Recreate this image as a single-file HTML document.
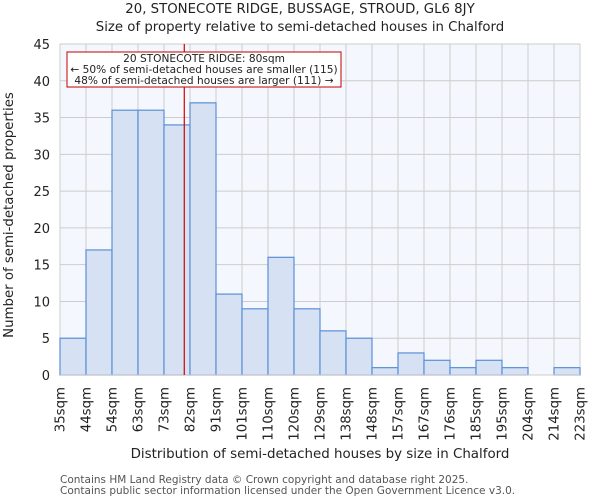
<!DOCTYPE html>
<html><head><meta charset="utf-8"><style>
body{margin:0;background:#fff;font-family:"DejaVu Sans","Liberation Sans",sans-serif;}
svg text{font-family:"DejaVu Sans","Liberation Sans",sans-serif;fill:#222;}
</style></head><body>
<svg id="c" width="600" height="500">
<text x="300" y="13" text-anchor="middle" font-size="13.3">20, STONECOTE RIDGE, BUSSAGE, STROUD, GL6 8JY</text>
<text x="300" y="31" text-anchor="middle" font-size="13.3">Size of property relative to semi-detached houses in Chalford</text>
<rect x="60" y="44" width="520" height="331" fill="#f4f7fd"/>
<g id="grid"></g><g id="bars"></g><g id="yt"></g><g id="xt"></g>
<text transform="translate(13,215) rotate(-90)" text-anchor="middle" font-size="13.3">Number of semi-detached properties</text>
<text x="320" y="458" text-anchor="middle" font-size="13.4">Distribution of semi-detached houses by size in Chalford</text>
<text x="60" y="483" font-size="10.5" style="fill:#555">Contains HM Land Registry data © Crown copyright and database right 2025.</text>
<text x="60" y="494" font-size="10.5" style="fill:#555">Contains public sector information licensed under the Open Government Licence v3.0.</text>
<g id="ann"></g>
</svg>
<script>
const categories=["35sqm","44sqm","54sqm","63sqm","73sqm","82sqm","91sqm","101sqm","110sqm","120sqm","129sqm","138sqm","148sqm","157sqm","167sqm","176sqm","185sqm","195sqm","204sqm","214sqm","223sqm"];
const counts=[5,17,36,36,34,37,11,9,16,9,6,5,1,3,2,1,2,1,0,1];
const yTicks=[0,5,10,15,20,25,30,35,40,45];
const markerBinPos=4.78;
const annLines=["20 STONECOTE RIDGE: 80sqm","← 50% of semi-detached houses are smaller (115)","48% of semi-detached houses are larger (111) →"];
const NS="http://www.w3.org/2000/svg";
const L=60,R=580,T=44,B=375,yMax=45;
const bw=(R-L)/counts.length;
const X=i=>L+i*bw, Y=v=>B-(v/yMax)*(B-T);
function mk(p,t,a){const e=document.createElementNS(NS,t);for(const k in a)e.setAttribute(k,a[k]);document.getElementById(p).appendChild(e);return e;}
yTicks.forEach(v=>{
 const g=mk('grid','line',{x1:L,x2:R,y1:Y(v),y2:Y(v),stroke:'#cccccc'});
 
 
 const t=mk('yt','text',{x:L-10,y:Y(v)+5,'text-anchor':'end','font-size':13});t.textContent=v;
 
 
});
categories.forEach((c,i)=>{
 const g=mk('grid','line',{x1:X(i),x2:X(i),y1:T,y2:B,stroke:'#cccccc'});
 
 
 const t=mk('xt','text',{transform:`translate(${X(i)+4.5},387) rotate(-90)`,'text-anchor':'end','font-size':13.3});t.textContent=c;
 
 
});
counts.forEach((v,i)=>{
 if(v<=0)return;
 const r=mk('bars','rect',{x:X(i),y:Y(v),width:bw,height:B-Y(v),fill:'#d6e1f3',stroke:'#5b8fd6','stroke-width':1.2});
 
 
});
const ax=mk('bars','line',{x1:L,x2:R,y1:B,y2:B,stroke:'#ccc'});


const mx=X(markerBinPos);
const ml=mk('ann','line',{x1:mx,x2:mx,y1:T,y2:B,stroke:'#d40000','stroke-width':1.2});


const box=mk('ann','rect',{x:67,y:52,width:274,height:35,fill:'#fff',stroke:'#c00000'});


annLines.forEach((s,i)=>{const t=mk('ann','text',{x:204,y:62+i*11,'text-anchor':'middle','font-size':10.6});t.textContent=s;
 
 });
</script>
</body></html>
